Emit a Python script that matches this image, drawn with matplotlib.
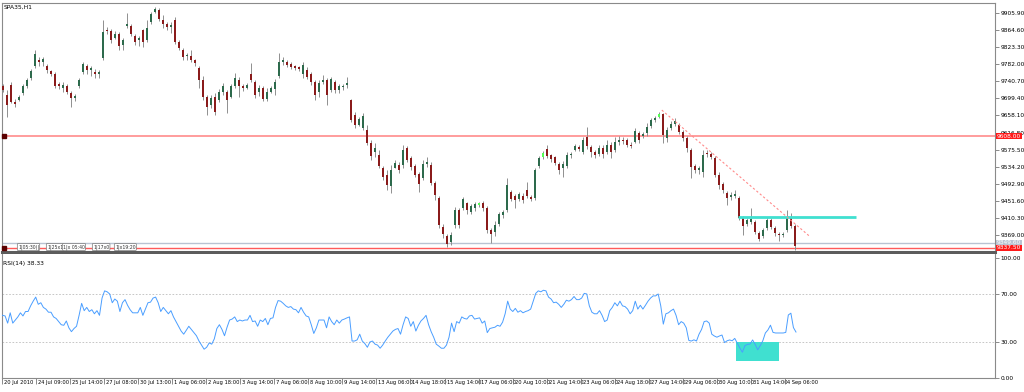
import numpy as np
import matplotlib
matplotlib.use("Agg")
import matplotlib.pyplot as plt
import matplotlib.transforms as mtransforms
from matplotlib.patches import Rectangle

plt.rcParams['font.family'] = ['DejaVu Sans']

# ---- data (one candle ~ two hours) ----
symbol = "SPA35,H1"
rsi_title = "RSI(14) 38.33"

opens = [9729, 9708, 9732, 9691, 9696, 9712, 9729, 9749, 9778, 9792,
         9787, 9778, 9766, 9758, 9734, 9724, 9729, 9712, 9700, 9729,
         9763, 9778, 9768, 9763, 9758, 9797, 9865, 9862, 9845, 9855,
         9828, 9874, 9874, 9850, 9841, 9865, 9841, 9884, 9908, 9913,
         9889, 9879, 9872, 9889, 9836, 9816, 9802, 9802, 9792, 9773,
         9744, 9703, 9683, 9703, 9696, 9715, 9715, 9703, 9729, 9744,
         9729, 9724, 9758, 9739, 9715, 9724, 9698, 9715, 9722, 9753,
         9787, 9787, 9782, 9778, 9775, 9758, 9768, 9758, 9739, 9715,
         9739, 9744, 9720, 9739, 9720, 9727, 9732, 9696, 9659, 9635,
         9628, 9623, 9591, 9570, 9562, 9531, 9514, 9487, 9531, 9538,
         9538, 9579, 9555, 9536, 9516, 9507, 9541, 9538, 9495, 9458,
         9388, 9367, 9352, 9393, 9429, 9434, 9446, 9425, 9434, 9441,
         9446, 9434, 9381, 9376, 9396, 9417, 9429, 9473, 9463, 9456,
         9463, 9478, 9461, 9458, 9536, 9558, 9577, 9562, 9558, 9541,
         9531, 9536, 9562, 9575, 9582, 9570, 9606, 9582, 9570, 9565,
         9579, 9570, 9587, 9575, 9594, 9599, 9599, 9587, 9594, 9616,
         9608, 9616, 9633, 9647, 9654, 9662, 9604, 9628, 9637, 9635,
         9618, 9604, 9575, 9536, 9526, 9521, 9567, 9565, 9555, 9514,
         9492, 9470, 9461, 9463, 9458, 9410, 9396, 9400, 9400, 9374,
         9367, 9386, 9405, 9386, 9371, 9369, 9381, 9412, 9391]

highs = [9734, 9720, 9739, 9698, 9708, 9734, 9749, 9770, 9816, 9799,
         9799, 9782, 9768, 9763, 9739, 9739, 9734, 9717, 9710, 9749,
         9787, 9782, 9778, 9770, 9768, 9889, 9872, 9867, 9862, 9860,
         9845, 9906, 9879, 9855, 9850, 9867, 9889, 9908, 9920, 9918,
         9901, 9884, 9884, 9896, 9841, 9821, 9809, 9816, 9795, 9778,
         9753, 9708, 9708, 9712, 9722, 9737, 9720, 9734, 9761, 9751,
         9734, 9737, 9785, 9744, 9732, 9729, 9724, 9729, 9746, 9809,
         9799, 9792, 9787, 9780, 9778, 9787, 9775, 9763, 9744, 9744,
         9756, 9749, 9751, 9744, 9734, 9734, 9751, 9698, 9666, 9654,
         9664, 9635, 9599, 9591, 9575, 9536, 9526, 9538, 9550, 9545,
         9587, 9584, 9560, 9541, 9521, 9550, 9558, 9545, 9500, 9463,
         9396, 9371, 9376, 9437, 9434, 9461, 9449, 9444, 9449, 9449,
         9451, 9439, 9386, 9403, 9425, 9429, 9507, 9478, 9468, 9473,
         9470, 9497, 9466, 9531, 9560, 9572, 9587, 9565, 9560, 9545,
         9548, 9570, 9570, 9589, 9587, 9606, 9630, 9587, 9575, 9587,
         9587, 9599, 9594, 9606, 9608, 9606, 9604, 9594, 9628, 9620,
         9618, 9640, 9652, 9657, 9666, 9664, 9630, 9645, 9652, 9640,
         9623, 9608, 9579, 9541, 9536, 9575, 9575, 9570, 9560, 9521,
         9497, 9475, 9473, 9478, 9463, 9415, 9410, 9434, 9405, 9379,
         9386, 9412, 9410, 9391, 9376, 9376, 9429, 9422, 9396]

lows = [9715, 9654, 9688, 9678, 9693, 9708, 9724, 9744, 9773, 9778,
        9778, 9761, 9753, 9724, 9722, 9715, 9710, 9678, 9693, 9724,
        9758, 9758, 9753, 9749, 9749, 9792, 9855, 9833, 9843, 9816,
        9816, 9870, 9850, 9828, 9826, 9824, 9836, 9879, 9906, 9886,
        9870, 9865, 9857, 9831, 9816, 9792, 9792, 9787, 9778, 9724,
        9696, 9659, 9676, 9659, 9691, 9708, 9664, 9700, 9724, 9703,
        9717, 9722, 9739, 9700, 9705, 9693, 9693, 9712, 9708, 9749,
        9780, 9775, 9770, 9768, 9766, 9749, 9746, 9732, 9696, 9703,
        9734, 9683, 9715, 9712, 9712, 9720, 9724, 9642, 9628, 9633,
        9623, 9587, 9550, 9558, 9531, 9502, 9478, 9470, 9531, 9519,
        9531, 9545, 9526, 9509, 9473, 9502, 9533, 9490, 9454, 9386,
        9362, 9340, 9345, 9386, 9386, 9429, 9420, 9420, 9427, 9437,
        9427, 9374, 9350, 9367, 9391, 9410, 9425, 9451, 9434, 9451,
        9446, 9458, 9451, 9454, 9531, 9553, 9555, 9545, 9538, 9516,
        9509, 9531, 9555, 9572, 9572, 9565, 9577, 9558, 9555, 9560,
        9555, 9565, 9555, 9570, 9587, 9589, 9582, 9579, 9591, 9591,
        9604, 9608, 9628, 9642, 9652, 9591, 9594, 9623, 9633, 9613,
        9596, 9570, 9507, 9519, 9516, 9509, 9558, 9553, 9509, 9480,
        9470, 9441, 9454, 9458, 9405, 9369, 9391, 9396, 9371, 9354,
        9362, 9381, 9383, 9367, 9354, 9364, 9376, 9386, 9333]

closes = [9720, 9683, 9691, 9686, 9703, 9729, 9744, 9766, 9807, 9787,
          9795, 9768, 9758, 9729, 9729, 9732, 9715, 9700, 9705, 9744,
          9782, 9768, 9773, 9758, 9763, 9860, 9862, 9841, 9855, 9826,
          9841, 9879, 9855, 9836, 9845, 9836, 9870, 9903, 9916, 9891,
          9879, 9872, 9877, 9836, 9821, 9799, 9804, 9792, 9785, 9744,
          9703, 9678, 9700, 9666, 9715, 9729, 9696, 9729, 9749, 9729,
          9724, 9732, 9744, 9708, 9724, 9698, 9715, 9724, 9739, 9787,
          9792, 9780, 9775, 9773, 9770, 9780, 9751, 9739, 9708, 9737,
          9744, 9708, 9746, 9720, 9729, 9729, 9737, 9647, 9635, 9649,
          9657, 9591, 9560, 9579, 9536, 9509, 9490, 9526, 9543, 9526,
          9575, 9550, 9533, 9514, 9492, 9541, 9545, 9495, 9466, 9393,
          9371, 9347, 9369, 9429, 9393, 9456, 9429, 9439, 9444, 9446,
          9434, 9381, 9371, 9393, 9420, 9425, 9490, 9456, 9454, 9468,
          9454, 9463, 9456, 9526, 9555, 9567, 9560, 9553, 9543, 9526,
          9541, 9562, 9565, 9584, 9577, 9599, 9584, 9570, 9562, 9579,
          9565, 9587, 9570, 9594, 9599, 9596, 9587, 9584, 9620, 9599,
          9613, 9630, 9647, 9652, 9662, 9611, 9623, 9637, 9645, 9618,
          9604, 9579, 9533, 9526, 9531, 9562, 9565, 9558, 9514, 9490,
          9478, 9458, 9466, 9468, 9410, 9391, 9405, 9408, 9376, 9359,
          9381, 9405, 9388, 9374, 9369, 9371, 9410, 9391, 9342]

highlight = [119, 135, 164]   # candles drawn in lime (selected)

rsi = [52.7, 52.2, 51.7, 45.7, 54.3, 45.7, 48.3, 50.9, 54.3, 51.7, 55.4, 55.4, 60.1, 64.0, 67.4, 61.4, 62.7, 58.8, 57.4, 54.8,
       54.8, 50.9, 49.6, 47.0, 44.4, 43.9, 47.5, 41.8, 38.6, 41.2, 43.1, 52.2, 62.2, 56.1, 58.8, 55.4, 56.9, 53.5, 56.1, 52.2,
       66.6, 72.6, 71.8, 70.0, 62.7, 65.8, 64.0, 55.4, 62.7, 65.3, 60.6, 56.9, 54.3, 54.3, 54.3, 58.8, 52.2, 57.4, 62.7, 63.2,
       66.6, 67.4, 62.7, 55.4, 58.8, 56.1, 53.5, 56.1, 50.9, 47.0, 43.1, 39.1, 36.5, 39.7, 43.1, 40.5, 37.8, 35.2, 30.8, 27.4,
       24.0, 25.6, 29.2, 28.2, 32.6, 41.2, 44.4, 40.5, 35.2, 42.3, 48.3, 49.1, 50.9, 47.0, 48.3, 47.5, 48.3, 48.3, 52.2, 47.0,
       47.5, 43.1, 48.3, 47.0, 49.6, 44.4, 49.6, 50.1, 58.8, 64.5, 64.0, 62.2, 60.1, 58.8, 59.5, 57.4, 56.9, 54.3, 58.8, 54.8,
       51.7, 50.9, 44.4, 37.1, 41.8, 48.3, 48.3, 48.3, 41.8, 50.9, 47.0, 44.4, 48.3, 45.7, 48.3, 49.1, 50.1, 50.9, 30.8, 30.8,
       31.8, 36.5, 30.8, 28.7, 25.6, 30.0, 30.8, 28.2, 27.4, 24.8, 27.4, 30.8, 33.9, 36.5, 39.1, 40.5, 41.2, 36.5, 44.4, 50.9,
       49.6, 43.1, 47.0, 39.1, 43.9, 47.5, 49.6, 52.2, 44.4, 38.6, 33.9, 28.2, 26.6, 24.8, 24.8, 27.4, 33.9, 45.7, 38.6, 47.0,
       45.7, 50.9, 49.6, 49.1, 51.7, 52.2, 49.1, 49.6, 50.1, 45.7, 47.5, 37.8, 41.2, 41.8, 42.3, 43.9, 43.1, 46.5, 53.5, 64.0,
       57.4, 55.4, 58.0, 54.8, 56.1, 54.3, 55.4, 56.1, 57.4, 64.0, 70.5, 72.6, 71.8, 73.1, 72.6, 67.4, 65.8, 62.7, 63.2, 61.4,
       58.8, 61.4, 64.8, 64.0, 65.3, 67.9, 65.3, 65.3, 66.6, 70.5, 70.0, 60.1, 54.8, 53.5, 53.5, 56.1, 52.2, 47.0, 48.3, 56.1,
       58.8, 62.7, 60.1, 64.0, 60.1, 59.5, 57.4, 53.5, 56.1, 64.0, 57.4, 60.6, 57.4, 60.6, 64.0, 66.6, 68.4, 68.4, 70.0, 60.1,
       44.9, 53.5, 54.3, 56.1, 57.4, 52.2, 44.4, 47.0, 45.7, 41.8, 31.3, 30.8, 31.8, 30.8, 36.5, 40.5, 47.0, 47.5, 45.7, 36.5,
       35.0, 34.0, 35.0, 35.8, 29.5, 31.0, 31.7, 31.0, 33.0, 29.0, 25.0, 21.5, 27.0, 28.0, 28.3, 31.7, 28.0, 23.5, 27.0, 31.0,
       37.5, 40.0, 44.0, 38.0, 37.5, 37.5, 37.5, 37.5, 38.0, 52.5, 54.0, 42.0, 38.3]

price_ticks = [9905.90, 9864.60, 9823.30, 9782.00, 9740.70, 9699.40, 9658.10,
               9616.80, 9575.50, 9534.20, 9492.90, 9451.60, 9410.30, 9369.00]
rsi_ticks = [100.0, 70.0, 30.0, 0.0]
time_labels = ["20 Jul 2010", "24 Jul 09:00", "25 Jul 14:00", "27 Jul 08:00",
               "30 Jul 13:00", "1 Aug 06:00", "2 Aug 18:00", "3 Aug 14:00",
               "7 Aug 06:00", "8 Aug 10:00", "9 Aug 14:00", "13 Aug 06:00",
               "14 Aug 18:00", "15 Aug 14:00", "17 Aug 06:00", "20 Aug 10:00",
               "21 Aug 14:00", "23 Aug 06:00", "24 Aug 18:00", "27 Aug 14:00",
               "29 Aug 06:00", "30 Aug 10:00", "31 Aug 14:00", "4 Sep 06:00"]

level_price = 9608.0
bid_price = 9349.6
ask_price = 9337.5
cyan_price = 9412.5
trend_start = (164.7, 9671.0)
trend_end = (201.75, 9365.0)
rsi_box = (183.25, 194.0, 14.5, 30.0)
object_tags = ["1|05:30(|", "1|25x1", "1|x 05:40", "1|17x0", "1|x19:20"]

# ---- layout ----
W, H = 1024, 392
fig = plt.figure(figsize=(W / 100, H / 100), dpi=100)
fig.patch.set_facecolor('white')


def fx(px):
    return px / W


def fy(py):
    return 1 - py / H


ax = fig.add_axes([fx(2), fy(252), (995 - 2) / W, (252 - 3) / H])
ax2 = fig.add_axes([fx(2), fy(378), (995 - 2) / W, (378 - 254) / H], sharex=ax)

o = np.array(opens, float)
h = np.array(highs, float)
l = np.array(lows, float)
c = np.array(closes, float)
x = np.arange(len(c))

cols = np.where(c >= o, '#2d6a4c', '#8a1b1b').astype(object)
for i in highlight:
    cols[i] = '#55ff55'

ax.vlines(x, l, h, color='#8f8f8f', lw=0.7, zorder=2)
ax.bar(x, np.maximum(np.abs(c - o), 1.5), bottom=np.minimum(o, c),
       width=0.55, color=list(cols), linewidth=0, zorder=3)

# horizontal lines / objects
ax.axhline(level_price, color='#ff9c9c', lw=1.4, zorder=1)
ax.axhline(bid_price, color='#b9c3d2', lw=1.0, zorder=1)
ax.axhline(ask_price, color='#ff5a5a', lw=1.0, zorder=1)
ax.hlines(cyan_price, 183.75, 213.25, color='#40e0d0', lw=2.0, zorder=4)
ax.plot([trend_start[0], trend_end[0]], [trend_start[1], trend_end[1]],
        ls=(0, (2, 2)), color='#ff8a8a', lw=0.8, zorder=4)

bt = mtransforms.blended_transform_factory(ax.transAxes, ax.transData)
for p in (level_price, ask_price):
    ax.plot([0.002], [p], 's', ms=2.2, color='#5a0000', transform=bt, clip_on=False, zorder=5)

ax.set_xlim(-0.25, 248)
ax.set_ylim(9327.8, 9930.0)
ax.yaxis.tick_right()
ax.set_yticks(price_ticks)
ax.set_yticklabels([f"{v:.2f}" for v in price_ticks])
ax.tick_params(axis='y', length=3, width=0.6, pad=1, labelsize=4.2,
               color='#777777', labelcolor='black')
ax.tick_params(axis='x', bottom=False, labelbottom=False)
for s in ax.spines.values():
    s.set_color('#8a8a8a')
    s.set_linewidth(0.8)
ax.spines['bottom'].set_color('#5c5c5c')
ax.spines['bottom'].set_linewidth(2.2)

# price labels on the right
def price_tag(p, text, fc, tc):
    ax.text(1 + 2 / 993, p, text, transform=bt, ha='left', va='center',
            fontsize=4.2, color=tc, zorder=6,
            bbox=dict(boxstyle='square,pad=0.12', fc=fc, ec='none'))


price_tag(level_price, f"{level_price:.2f}", '#ff1a1a', 'white')
price_tag(bid_price, f"{bid_price:.2f}", '#b9c3d2', 'white')
price_tag(ask_price, f"{ask_price:.2f}", '#ff1a1a', 'white')

# small object tags near the bottom
tag_px = [18, 47, 63, 93, 115]
for px, t in zip(tag_px, object_tags):
    fig.text(fx(px), fy(247), t, fontsize=3.3, ha='left', va='center', color='#333333',
             bbox=dict(boxstyle='round,pad=0.15', fc='white', ec='#777777', lw=0.5))

fig.text(fx(4), fy(7), symbol, fontsize=4.3, ha='left', va='center')

# ---- RSI panel ----
rsi_x = -0.75 + 0.6378 * np.arange(len(rsi))
ax2.plot(rsi_x, rsi, color='#4a9eff', lw=0.7, zorder=3)
ax2.axhline(70, color='#bdbdbd', ls=(0, (2, 2)), lw=0.6)
ax2.axhline(30, color='#bdbdbd', ls=(0, (2, 2)), lw=0.6)
ax2.add_patch(Rectangle((rsi_box[0], rsi_box[2]), rsi_box[1] - rsi_box[0],
                        rsi_box[3] - rsi_box[2], fc='#40e0d0', ec='none', zorder=2))
ax2.set_ylim(0, 103.3)
ax2.yaxis.tick_right()
ax2.set_yticks(rsi_ticks)
ax2.set_yticklabels([f"{v:.2f}" for v in rsi_ticks])
ax2.tick_params(axis='y', length=3, width=0.6, pad=1, labelsize=4.2,
                color='#777777', labelcolor='black')

tick_pos = -0.25 + 8.51 * np.arange(len(time_labels))
ax2.set_xticks(tick_pos)
ax2.set_xticklabels(time_labels)
ax2.set_xlim(-0.25, 248)
ax2.tick_params(axis='x', length=4, width=0.6, pad=-2.5, labelsize=3.7,
                color='#777777', labelcolor='black', direction='out')
offset = mtransforms.ScaledTranslation(2 / 100, 0, fig.dpi_scale_trans)
for lbl in ax2.get_xticklabels():
    lbl.set_ha('left')
    lbl.set_transform(lbl.get_transform() + offset)
for s in ax2.spines.values():
    s.set_color('#8a8a8a')
    s.set_linewidth(0.8)
ax2.spines['top'].set_visible(False)

fig.text(fx(3), fy(263), rsi_title, fontsize=4.3, ha='left', va='center')

fig.savefig("out.png", dpi=100, facecolor='white')
